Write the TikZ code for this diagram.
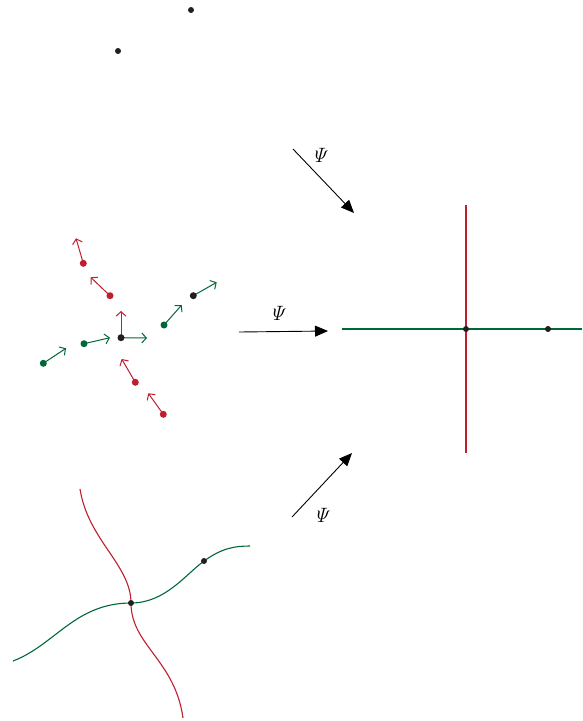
\documentclass[tikz,border=0pt]{standalone}
\usetikzlibrary{arrows.meta}
\definecolor{myred}{HTML}{BE1E2D}
\definecolor{mygreen}{HTML}{006837}
\definecolor{mydot}{HTML}{231F20}
\begin{document}
\begin{tikzpicture}[x=1pt,y=-1pt,
  dotk/.style={circle,fill=mydot,inner sep=0pt,minimum size=7pt},
  dotr/.style={circle,fill=myred,inner sep=0pt,minimum size=7pt},
  dotg/.style={circle,fill=mygreen,inner sep=0pt,minimum size=7pt},
  dotks/.style={circle,fill=mydot,inner sep=0pt,minimum size=6pt},
  vecr/.style={myred,line width=1pt,-{Straight Barb[length=4.5pt,width=10pt]}},
  vecg/.style={mygreen,line width=1pt,-{Straight Barb[length=4.5pt,width=10pt]}},
  mapar/.style={black,line width=0.9pt,-{Triangle[length=13pt,width=11pt]}},
  lbl/.style={font=\fontsize{21}{24}\selectfont,inner sep=0pt},
  curver/.style={myred,line width=1.1pt},
  curveg/.style={mygreen,line width=1.1pt}]
\useasboundingbox (0,0) rectangle (582,721);
% top dots
\node[dotks] (t1) at (191,10) {};
\node[dotks] (t2) at (118,51) {};
% map arrows
\coordinate (a1s) at (293,149); \coordinate (a1e) at (354,213);
\coordinate (a2s) at (239,332); \coordinate (a2e) at (328,331);
\coordinate (a3s) at (292,517); \coordinate (a3e) at (352,453);
\draw[mapar] (a1s) -- (a1e);
\draw[mapar] (a2s) -- (a2e);
\draw[mapar] (a3s) -- (a3e);
\node[lbl] (l1) at (320,155) {$\mathit{\Psi}$};
\node[lbl] (l2) at (278,313) {$\mathit{\Psi}$};
\node[lbl] (l3) at (322,515) {$\mathit{\Psi}$};
% right cross
\coordinate (gl) at (342,329); \coordinate (gr) at (582,329);
\coordinate (rt) at (466,205); \coordinate (rb) at (466,453);
\draw[curveg] (gl) -- (gr);
\draw[curver] (rt) -- (rb);
\node[dotks] (c0) at (466,329) {};
\node[dotks] (c1) at (548,329) {};
% vector field
\coordinate (e0r) at (121,311); \coordinate (e0g) at (147,338);
\coordinate (e1) at (110,337.7); \coordinate (e2) at (66,348.3);
\coordinate (e3) at (181.7,305); \coordinate (e4) at (216.7,282.3);
\coordinate (e5) at (90.7,277.3); \coordinate (e6) at (76,238.3);
\coordinate (e7) at (121.7,359); \coordinate (e8) at (148.3,393.3);
\node[dotg] (g1) at (84,343.7) {};
\node[dotg] (g2) at (43.3,363.3) {};
\node[dotg] (g3) at (164,325) {};
\node[dotr] (r1) at (110,295.7) {};
\node[dotr] (r2) at (83.3,263.3) {};
\node[dotr] (r3) at (135.3,382.3) {};
\node[dotr] (r4) at (163.3,414.3) {};
\coordinate (k0c) at (121,337.7);
\coordinate (k1c) at (193.3,295.7);
\draw[vecr] (k0c) -- (e0r);
\draw[vecg] (k0c) -- (e0g);
\draw[vecg] (g1.center) -- (e1);
\draw[vecg] (g2.center) -- (e2);
\draw[vecg] (g3.center) -- (e3);
\draw[vecg] (k1c) -- (e4);
\draw[vecr] (r1.center) -- (e5);
\draw[vecr] (r2.center) -- (e6);
\draw[vecr] (r3.center) -- (e7);
\draw[vecr] (r4.center) -- (e8);
\node[dotk] (k0) at (k0c) {};
\node[dotk] (k1) at (k1c) {};
% bottom curves
\coordinate (cg0) at (13,661); \coordinate (cg3) at (250,546);
\coordinate (cr0) at (80,489); \coordinate (cr2) at (183,718);
\draw[curveg] (cg0) .. controls (55,645) and (75,603) .. (131,603)
  .. controls (165,603) and (185,575) .. (204,561)
  .. controls (222,548) and (235,546) .. (cg3);
\draw[curver] (cr0) .. controls (88,540) and (131,565) .. (131,603)
  .. controls (131,645) and (175,660) .. (cr2);
\node[dotks] (b0) at (131,603) {};
\node[dotks] (b1) at (204,561) {};
\end{tikzpicture}
\end{document}
